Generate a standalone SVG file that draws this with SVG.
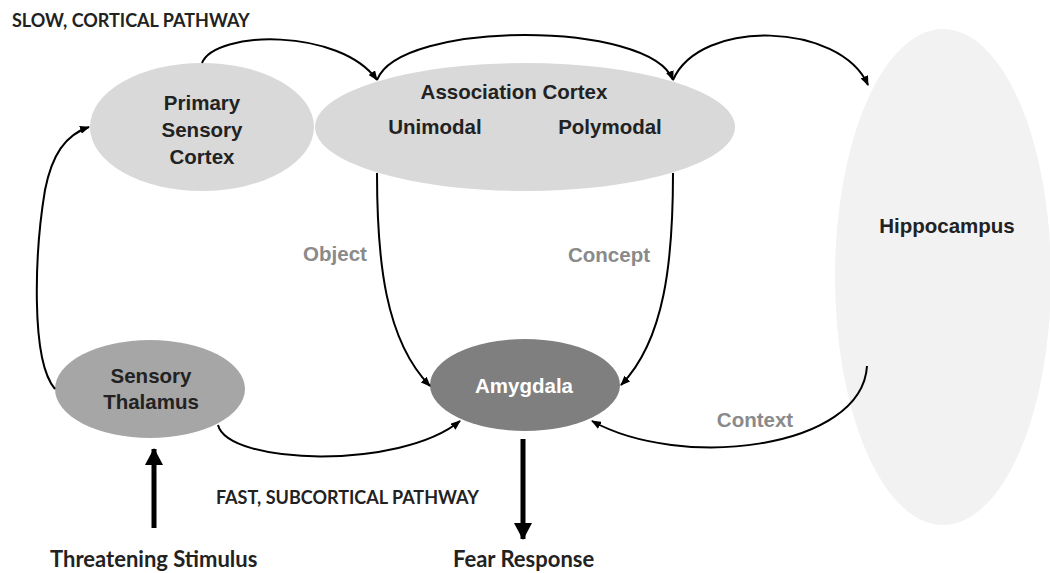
<svg xmlns="http://www.w3.org/2000/svg" width="1050" height="573" viewBox="0 0 1050 573">
<defs>
<marker id="ah" markerUnits="userSpaceOnUse" markerWidth="10" markerHeight="8" refX="9" refY="4" orient="auto">
<path d="M0,0 L10,4 L0,8 z" fill="#000"/>
</marker>
<marker id="big" markerUnits="userSpaceOnUse" markerWidth="18" markerHeight="18" refX="16" refY="9" orient="auto">
<path d="M0,0 L17,9 L0,18 z" fill="#000"/>
</marker>
<style>
.lbl{font-family:"Liberation Sans",Arial,sans-serif;font-weight:bold;font-size:20.5px;fill:#222;text-anchor:middle}
.grey{font-family:"Liberation Sans",Arial,sans-serif;font-weight:bold;font-size:20.5px;fill:#8a8a8a;text-anchor:middle}
.cap{font-family:Lato,"Open Sans",sans-serif;font-weight:bold;font-size:18px;fill:#222}
.big{font-family:Lato,"Open Sans",sans-serif;font-weight:bold;font-size:22px;fill:#222}
.con{fill:none;stroke:#000;stroke-width:2;marker-end:url(#ah)}
.thick{fill:none;stroke:#000;stroke-width:5;marker-end:url(#big)}
</style>
</defs>
<rect width="1050" height="573" fill="#fff"/>
<text class="cap" x="12" y="27">SLOW, CORTICAL PATHWAY</text>
<g id="hippocampus">
<ellipse cx="943" cy="277" rx="108" ry="248" fill="#f2f2f2"/>
<text class="lbl" x="947" y="233">Hippocampus</text>
</g>
<g id="primary-sensory-cortex">
<ellipse cx="202" cy="127" rx="112" ry="64" fill="#d9d9d9"/>
<text class="lbl" x="202" y="110">Primary</text>
<text class="lbl" x="202" y="137">Sensory</text>
<text class="lbl" x="202" y="164">Cortex</text>
</g>
<g id="association-cortex">
<ellipse cx="525" cy="127" rx="210" ry="64" fill="#d9d9d9"/>
<text class="lbl" x="514" y="99">Association Cortex</text>
<text class="lbl" x="435" y="134">Unimodal</text>
<text class="lbl" x="610" y="134">Polymodal</text>
</g>
<g id="sensory-thalamus">
<ellipse cx="150" cy="389" rx="95" ry="49" fill="#a6a6a6"/>
<text class="lbl" x="151" y="383">Sensory</text>
<text class="lbl" x="151" y="409">Thalamus</text>
</g>
<g id="amygdala">
<ellipse cx="525" cy="385" rx="95" ry="46" fill="#7f7f7f"/>
<text class="lbl" x="524" y="393" style="fill:#fff">Amygdala</text>
</g>
<g id="connectors">
<path class="con" d="M55,389 C30,360 35,250 45,190 C52,155 65,135 89,127"/>
<path class="con" d="M202,63 C215,30 340,28 377,80"/>
<path class="con" d="M377,80 C400,20 650,20 673,80"/>
<path class="con" d="M673,80 C700,18 840,22 868,85"/>
<path class="con" d="M377,173 C377,260 385,340 430,386"/>
<path class="con" d="M673,173 C673,260 665,340 621,385"/>
<path class="con" d="M218,425 C228,465 400,470 460,421"/>
<path class="con" d="M867,366 C862,450 680,470 592,421"/>
<path class="thick" d="M154,528 L154,449"/>
<path class="thick" d="M523,439 L523,539"/>
</g>
<text class="grey" x="335" y="261">Object</text>
<text class="grey" x="609" y="262">Concept</text>
<text class="grey" x="755" y="427">Context</text>
<text class="cap" x="216" y="504">FAST, SUBCORTICAL PATHWAY</text>
<text class="big" x="50" y="567">Threatening Stimulus</text>
<text class="big" x="453" y="567">Fear Response</text>
</svg>
